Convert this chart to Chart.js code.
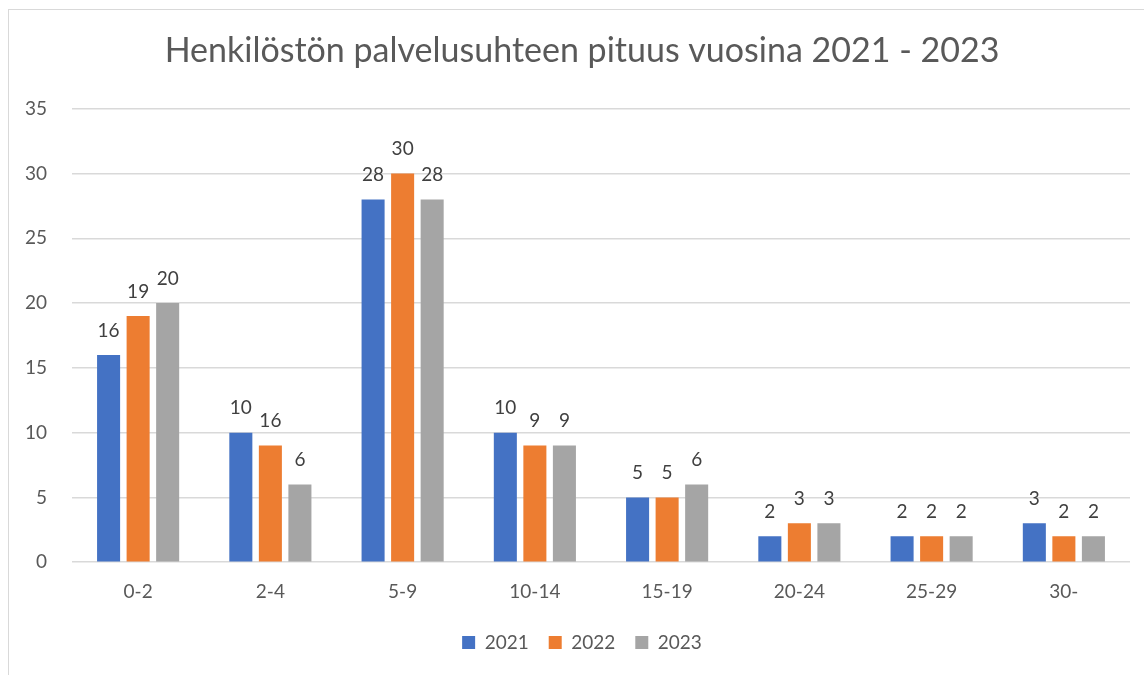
<!DOCTYPE html>
<html>
<head>
<meta charset="utf-8">
<script src="https://cdn.jsdelivr.net/npm/chart.js@4.4.1/dist/chart.umd.min.js"></script>
<style>
  body { margin: 0; background: #fff; }
  #frame {
    position: absolute; left: 8px; top: 9px; width: 1140px; height: 670px;
    border: 1px solid #d9d9d9; box-sizing: border-box;
  }
  #wrap { position: absolute; left: 0; top: 0; width: 1144px; height: 675px; }
</style>
</head>
<body>
<div id="frame"></div>
<div id="wrap"><canvas id="chart"></canvas></div>
<script>
const categories = ['0-2', '2-4', '5-9', '10-14', '15-19', '20-24', '25-29', '30-'];
const values_2021 = [16, 10, 28, 10, 5, 2, 2, 3];
const values_2022 = [19, 9, 30, 9, 5, 3, 2, 2];
const values_2023 = [20, 6, 28, 9, 6, 3, 2, 2];
// labels as printed in the original (2-4 / 2022 reads 16)
const labels_2021 = ['16', '10', '28', '10', '5', '2', '2', '3'];
const labels_2022 = ['19', '16', '30', '9', '5', '3', '2', '2'];
const labels_2023 = ['20', '6', '28', '9', '6', '3', '2', '2'];
const y_ticks = [0, 5, 10, 15, 20, 25, 30, 35];

const font_name = 'Lato, "Open Sans", sans-serif';

const bar_labels = {
    id: 'bar_labels',
    afterDatasetsDraw(chart) {
        const ctx = chart.ctx;
        ctx.save();
        ctx.font = '19px ' + font_name;
        ctx.fillStyle = '#404040';
        ctx.textAlign = 'center';
        ctx.textBaseline = 'bottom';
        chart.data.datasets.forEach((ds, i) => {
            const meta = chart.getDatasetMeta(i);
            meta.data.forEach((bar, j) => {
                ctx.fillText(ds.printed[j], bar.x, bar.y - 15);
            });
        });
        ctx.restore();
    }
};

// title and legend sit a bit right of the canvas centre in the original
const shift_boxes = {
    id: 'shift_boxes',
    afterLayout(chart) {
        [chart.titleBlock, chart.legend].forEach(box => {
            if (box) { box.left += 17; box.right += 17; }
        });
    }
};

const ctx = document.getElementById('chart').getContext('2d');
window.myChart = new Chart(ctx, {
    type: 'bar',
    data: {
        labels: categories,
        datasets: [
            { label: '2021', data: values_2021, printed: labels_2021, backgroundColor: '#4472C4' },
            { label: '2022', data: values_2022, printed: labels_2022, backgroundColor: '#ED7D31' },
            { label: '2023', data: values_2023, printed: labels_2023, backgroundColor: '#A5A5A5' }
        ]
    },
    options: {
        responsive: true,
        maintainAspectRatio: false,
        animation: false,
        categoryPercentage: 0.67,
        barPercentage: 0.78,
        layout: { padding: { left: 0, right: 14, top: 0, bottom: 13 } },
        scales: {
            x: {
                grid: { display: false },
                border: { display: false },
                ticks: { color: '#595959', font: { family: font_name, size: 19 }, padding: 10 }
            },
            y: {
                min: 0,
                max: 35,
                afterBuildTicks: axis => { axis.ticks = y_ticks.map(v => ({ value: v })); },
                afterFit: axis => { axis.width = 72; },
                grid: { color: '#d9d9d9', lineWidth: 1.5, drawTicks: false },
                border: { display: false },
                ticks: { color: '#595959', font: { family: font_name, size: 19 }, padding: 25 }
            }
        },
        plugins: {
            title: {
                display: true,
                text: 'Henkilöstön palvelusuhteen pituus vuosina 2021 - 2023',
                color: '#595959',
                font: { family: font_name, size: 34, weight: 'normal' },
                padding: { top: 31, bottom: 37 }
            },
            legend: {
                position: 'bottom',
                labels: {
                    color: '#595959',
                    font: { family: font_name, size: 19 },
                    boxWidth: 13,
                    boxHeight: 13,
                    padding: 20
                }
            },
            tooltip: { enabled: false }
        }
    },
    plugins: [bar_labels, shift_boxes]
});
</script>
</body>
</html>
